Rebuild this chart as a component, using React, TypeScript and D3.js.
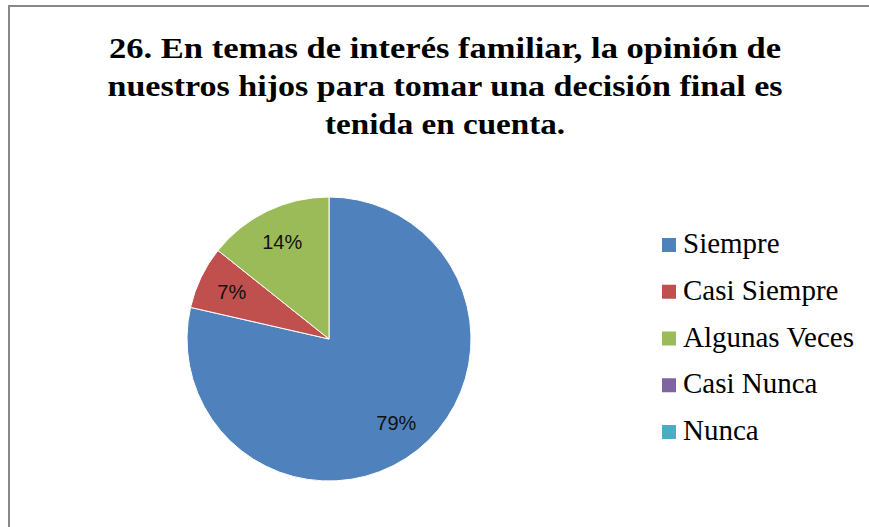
import React from "react";
import * as d3 from "d3";

const titleLines = [
  "26. En temas de interés familiar, la opinión de",
  "nuestros hijos para tomar una decisión final es",
  "tenida en cuenta.",
];
const titleWidths = [672, 675, 240];
const categories = ["Siempre", "Casi Siempre", "Algunas Veces", "Casi Nunca", "Nunca"];
const values = [11, 1, 2, 0, 0];
const labels = ["79%", "7%", "14%", "", ""];
const colors = ["#4F81BD", "#C0504D", "#9BBB59", "#8064A2", "#4BACC6"];

export default function App() {
  const W = 869, H = 527;
  const cx = 329, cy = 339, r = 142;
  const pie = d3.pie<number>().sort(null).value((d) => d)(values);
  const arc = d3.arc<d3.PieArcDatum<number>>().innerRadius(0).outerRadius(r);
  const labelArc = d3.arc<d3.PieArcDatum<number>>().innerRadius(r * 0.76).outerRadius(r * 0.76);
  const legendY = d3.scalePoint<string>().domain(categories).range([253, 440]);
  const serif = "'Liberation Serif', 'Times New Roman', Times, serif";
  return (
    <svg width={W} height={H} style={{ position: "absolute", left: 0, top: 0, background: "#fff" }}>
      <rect x={0} y={0} width={W} height={H} fill="#fff" />
      <path d={`M9,${H + 5} L9,6 L${W + 5},6`} fill="none" stroke="#888" strokeWidth={2} />
      {titleLines.map((t, i) => (
        <text key={i} x={445} y={58 + i * 38} textAnchor="middle"
          textLength={titleWidths[i]} lengthAdjust="spacingAndGlyphs"
          style={{ fontFamily: serif, fontWeight: 700, fontSize: "30px" }}
          fill="#000">
          {t}
        </text>
      ))}
      <g transform={`translate(${cx},${cy})`}>
        {pie.map((p, i) => (p.value > 0 ? (
          <path key={i} d={arc(p) || ""} fill={colors[i]} stroke="#fff" strokeWidth={1} />
        ) : null))}
        {pie.map((p, i) => (p.value > 0 ? (
          <text key={"l" + i} transform={`translate(${labelArc.centroid(p)})`} textAnchor="middle" dy="0.35em"
            fontFamily="'Liberation Sans', Arial, sans-serif" fontSize={20} fill="#111">
            {labels[i]}
          </text>
        ) : null))}
      </g>
      {categories.map((c, i) => (
        <g key={c} transform={`translate(662,${legendY(c)})`}>
          <rect x={0} y={-15} width={14} height={14} fill={colors[i]} />
          <text x={21} y={0} style={{ fontFamily: serif, fontSize: "29px" }} fill="#000">
            {c}
          </text>
        </g>
      ))}
    </svg>
  );
}
